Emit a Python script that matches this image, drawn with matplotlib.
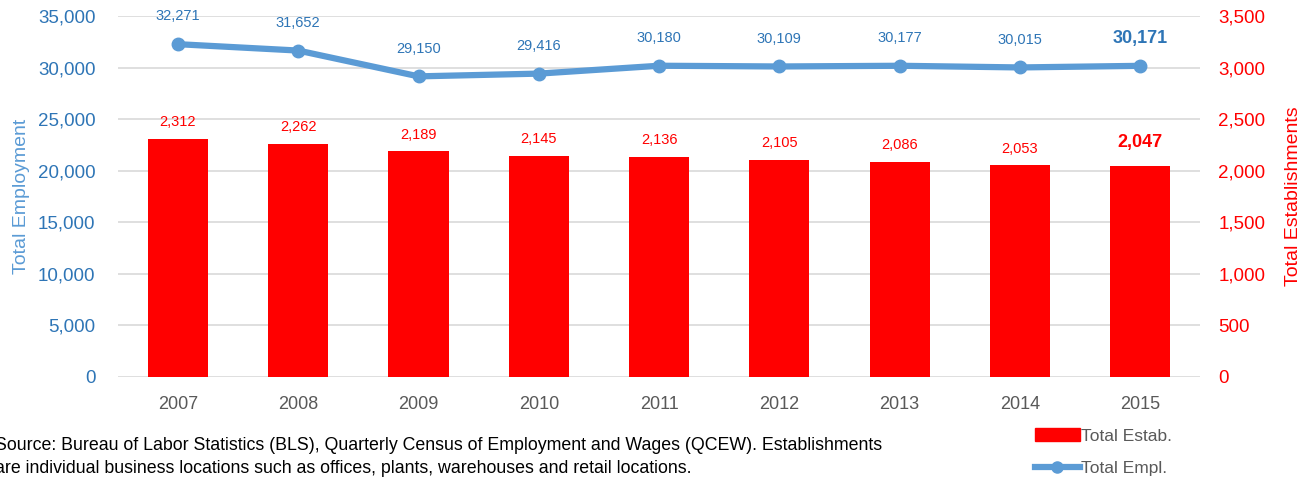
import matplotlib
matplotlib.use('Agg')
from matplotlib import pylab as plt
from matplotlib.lines import Line2D
from matplotlib.patches import Patch
import numpy as np

years = ['2007', '2008', '2009', '2010', '2011', '2012', '2013', '2014', '2015']
employment = [32271, 31652, 29150, 29416, 30180, 30109, 30177, 30015, 30171]
establishments = [2312, 2262, 2189, 2145, 2136, 2105, 2086, 2053, 2047]
source_text = ('Source: Bureau of Labor Statistics (BLS), Quarterly Census of Employment and Wages (QCEW). Establishments\n'
               'are individual business locations such as offices, plants, warehouses and retail locations.')

blue = '#5B9BD5'
blue_dark = '#2E75B6'
red = '#FF0000'
grid_c = '#D9D9D9'

plt.rcParams['font.family'] = ['Liberation Sans Narrow', 'Liberation Sans', 'DejaVu Sans']

fig = plt.figure(figsize=(13.09, 4.8), dpi=100)
ax = fig.add_axes([0.090, 0.2146, 0.827, 0.752])
ax2 = ax.twinx()

x = np.arange(len(years))

# bars on the right axis, line on the left axis drawn on top
ax2.bar(x, establishments, width=0.5, color=red, zorder=2)
ax2.set_ylim(0, 3500)
ax2.set_yticks(np.arange(0, 3501, 500))
ax2.set_yticklabels(['{:,}'.format(v) for v in range(0, 3501, 500)])

ax.set_ylim(0, 35000)
ax.set_yticks(np.arange(0, 35001, 5000))
ax.set_yticklabels(['{:,}'.format(v) for v in range(0, 35001, 5000)])
ax.set_xlim(-0.5, len(years) - 0.5)
ax.set_xticks(x)
ax.set_xticklabels(years)

ax.set_zorder(ax2.get_zorder() + 1)
ax.patch.set_visible(False)
ax.plot(x, employment, color=blue, lw=4.5, marker='o', ms=9, solid_capstyle='round', zorder=3)

# grid lines drawn on the bar axis, behind bars
for v in range(0, 3501, 500):
    ax2.axhline(v, color=grid_c, lw=1.2, zorder=0)

for a in (ax, ax2):
    for s in a.spines.values():
        s.set_visible(False)
    a.tick_params(length=0)

ax.tick_params(axis='y', colors=blue_dark, labelsize=13.5, pad=16)
ax.tick_params(axis='x', colors='#595959', labelsize=13, pad=14)
ax2.tick_params(axis='y', colors=red, labelsize=13.5, pad=13)

ax.set_ylabel('Total Employment', color=blue, fontsize=14, labelpad=6)
ax2.set_ylabel('Total Establishments', color=red, fontsize=14, labelpad=14)

# data labels
for i in range(len(years)):
    last = (i == len(years) - 1)
    ax.annotate('{:,}'.format(employment[i]), (x[i], employment[i]), xytext=(0, 20),
                textcoords='offset points', ha='center', va='center',
                color=blue_dark, fontsize=13 if last else 10.5,
                fontweight='bold' if last else 'normal')
    ax2.annotate('{:,}'.format(establishments[i]), (x[i], establishments[i]),
                 xytext=(0, 17 if last else 12), textcoords='offset points',
                 ha='center', va='center', color=red,
                 fontsize=13 if last else 10.5,
                 fontweight='bold' if last else 'normal')

fig.text(-0.004, 0.006, source_text, fontsize=12.8, color='black', ha='left', va='bottom', linespacing=1.45)

handles = [Patch(facecolor=red, edgecolor=red),
           Line2D([0], [0], color=blue, lw=4.5, marker='o', ms=8)]
fig.legend(handles, ['Total Estab.', 'Total Empl.'], loc='upper left',
           bbox_to_anchor=(0.785, 0.122), frameon=False, fontsize=12.5,
           labelcolor='#595959', handlelength=2.6, handletextpad=0.1,
           labelspacing=1.0, borderaxespad=0)

plt.savefig('out.png', dpi=100)
